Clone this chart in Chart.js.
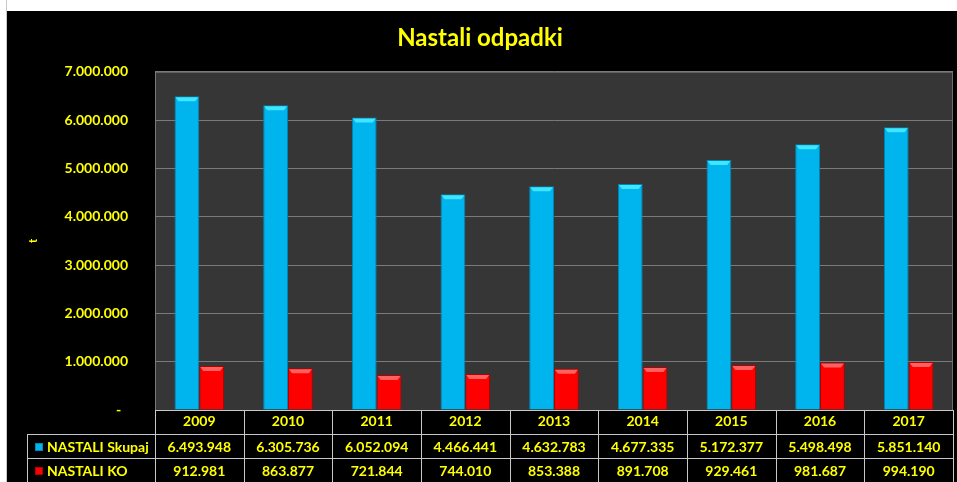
<!DOCTYPE html>
<html>
<head>
<meta charset="utf-8">
<script src="https://cdn.jsdelivr.net/npm/chart.js@4.4.0/dist/chart.umd.min.js"></script>
<style>
  html, body { margin: 0; padding: 0; background: #fff; }
  #rob { position: absolute; left: 6px; top: 0; width: 1px; height: 482px; background: #c8c8c8; }
  #okvir { position: absolute; left: 7px; top: 11px; width: 950px; height: 471px; background: #000; }
</style>
</head>
<body>
<div id="rob"></div>
<div id="okvir"><canvas id="nastali-odpadki"></canvas></div>
<script>
// podatki
const leta = ["2009", "2010", "2011", "2012", "2013", "2014", "2015", "2016", "2017"];
const nastali_skupaj = [6493948, 6305736, 6052094, 4466441, 4632783, 4677335, 5172377, 5498498, 5851140];
const nastali_ko = [912981, 863877, 721844, 744010, 853388, 891708, 929461, 981687, 994190];
const serije = ["NASTALI Skupaj", "NASTALI KO"];

const RUMENA = "#FFFF00";
const PISAVA = "Lato, 'Liberation Sans', sans-serif";

function fmt(v) {
  return v.toString().replace(/\B(?=(\d{3})+(?!\d))/g, ".");
}

const ozadje = {
  id: "ozadje",
  beforeDraw(chart) {
    const { ctx, chartArea: a } = chart;
    ctx.save();
    ctx.fillStyle = "#363636";
    ctx.fillRect(a.left, a.top, a.right - a.left, a.bottom - a.top);
    ctx.strokeStyle = "#6e6e6e";
    ctx.lineWidth = 1;
    ctx.strokeRect(a.left + 0.5, a.top + 0.5, a.right - a.left - 1, a.bottom - a.top);
    ctx.restore();
  },
};

// svetlejsi rob na vrhu stolpcev
const vrh = {
  id: "vrh",
  afterDatasetsDraw(chart) {
    const ctx = chart.ctx;
    const barve = ["#3fe6ff", "#ff6060"];
    ctx.save();
    chart.data.datasets.forEach((ds, i) => {
      chart.getDatasetMeta(i).data.forEach((bar) => {
        const l = bar.x - bar.width / 2 + 1;
        const r = bar.x + bar.width / 2 - 1;
        ctx.fillStyle = barve[i];
        ctx.beginPath();
        ctx.moveTo(l, bar.y + 1);
        ctx.lineTo(r, bar.y + 1);
        ctx.lineTo(r - 3, bar.y + 5);
        ctx.lineTo(l + 3, bar.y + 5);
        ctx.closePath();
        ctx.fill();
      });
    });
    ctx.restore();
  },
};

// tabela s podatki pod grafom
const tabela = {
  id: "tabela",
  afterDraw(chart) {
    const { ctx, chartArea: a } = chart;
    const xs = chart.scales.x;
    const sirina = (a.right - a.left) / leta.length;
    const vrstica = 24;
    const t0 = a.bottom;
    const t1 = t0 + vrstica;
    const t2 = t1 + vrstica;
    const t3 = chart.height;
    const levo = 20;

    ctx.save();
    ctx.strokeStyle = "#c8c8c8";
    ctx.lineWidth = 1;
    ctx.beginPath();
    // vodoravne
    ctx.moveTo(a.left, t0 + 0.5); ctx.lineTo(a.right, t0 + 0.5);
    ctx.moveTo(levo, t1 + 0.5); ctx.lineTo(a.right, t1 + 0.5);
    ctx.moveTo(levo, t2 + 0.5); ctx.lineTo(a.right, t2 + 0.5);
    // navpicne
    ctx.moveTo(levo + 0.5, t1); ctx.lineTo(levo + 0.5, t3);
    for (let i = 0; i <= leta.length; i++) {
      const x = Math.round(a.left + i * sirina) + 0.5;
      ctx.moveTo(x, t0); ctx.lineTo(x, t3);
    }
    ctx.stroke();

    ctx.fillStyle = RUMENA;
    ctx.font = "bold 14px " + PISAVA;
    ctx.textBaseline = "middle";
    ctx.textAlign = "center";
    leta.forEach((l, i) => {
      const x = xs.getPixelForValue(i);
      ctx.fillText(fmt(nastali_skupaj[i]), x, t1 + vrstica / 2 + 1);
      ctx.fillText(fmt(nastali_ko[i]), x, t2 + vrstica / 2 + 1);
    });

    // legenda
    const barve = [["#00b4ee", "#0085b5"], ["#ff0000", "#b00000"]];
    [t1, t2].forEach((t, i) => {
      const cy = t + vrstica / 2 + 1;
      ctx.fillStyle = barve[i][1];
      ctx.fillRect(28, cy - 4, 8, 8);
      ctx.fillStyle = barve[i][0];
      ctx.fillRect(29, cy - 3, 6, 6);
      ctx.fillStyle = RUMENA;
      ctx.textAlign = "left";
      ctx.fillText(serije[i], 40, cy);
    });
    ctx.restore();
  },
};

new Chart(document.getElementById("nastali-odpadki"), {
  type: "bar",
  data: {
    labels: leta,
    datasets: [
      {
        label: serije[0],
        data: nastali_skupaj,
        backgroundColor: "#00b4ee",
        borderColor: "#0085b5",
        borderWidth: 1,
        barPercentage: 1.0,
        categoryPercentage: 0.56,
      },
      {
        label: serije[1],
        data: nastali_ko,
        backgroundColor: "#ff0000",
        borderColor: "#b00000",
        borderWidth: 1,
        barPercentage: 1.0,
        categoryPercentage: 0.56,
      },
    ],
  },
  plugins: [ozadje, vrh, tabela],
  options: {
    responsive: true,
    maintainAspectRatio: false,
    animation: false,
    layout: {
      padding: { left: 0, right: 4, top: 0, bottom: 0 },
    },
    scales: {
      x: {
        grid: { display: false, drawTicks: false },
        border: { display: false },
        ticks: {
          color: RUMENA,
          font: { family: PISAVA, size: 14, weight: "bold" },
          padding: 3,
        },
        afterFit: function (scale) {
          scale.height = 72;
        },
      },
      y: {
        min: 0,
        max: 7000000,
        ticks: {
          stepSize: 1000000,
          color: RUMENA,
          padding: 27,
          font: { family: PISAVA, size: 14, weight: "bold" },
          callback: function (val) {
            return val === 0 ? "-  " : fmt(val);
          },
        },
        grid: {
          color: "#7a7a7a",
          drawTicks: false,
        },
        border: { display: true, color: "#7a7a7a" },
        title: {
          display: true,
          text: "t",
          color: RUMENA,
          font: { family: PISAVA, size: 11, weight: "bold" },
          padding: { top: 20, bottom: 0 },
        },
        afterFit: function (scale) {
          scale.width = 148;
        },
      },
    },
    plugins: {
      legend: { display: false },
      tooltip: { enabled: false },
      title: {
        display: true,
        text: "Nastali odpadki",
        color: RUMENA,
        font: { family: PISAVA, size: 24, weight: "bold" },
        padding: { top: 13, bottom: 19 },
      },
    },
  },
});
</script>
</body>
</html>
